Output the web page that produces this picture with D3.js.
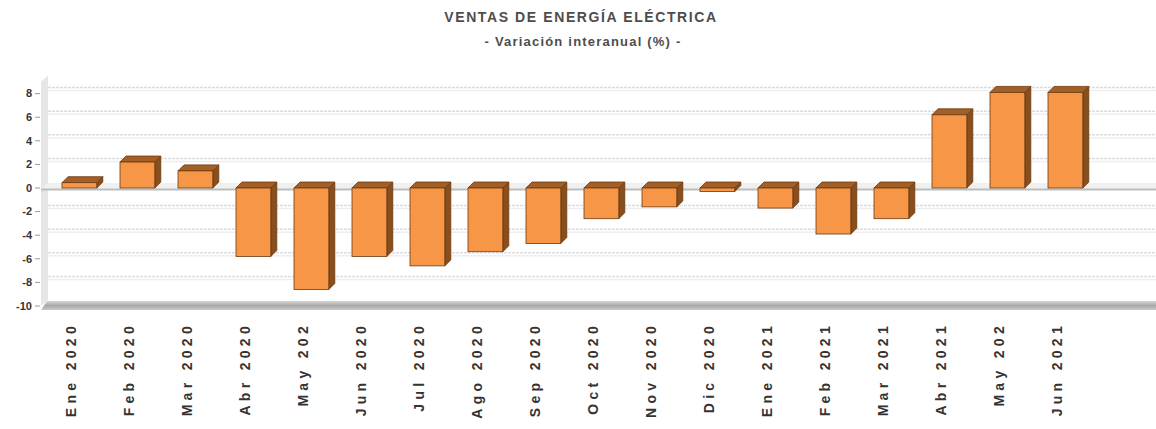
<!DOCTYPE html>
<html><head><meta charset="utf-8">
<script src="https://cdn.jsdelivr.net/npm/d3@7"></script>
<style>
html,body{margin:0;padding:0;background:#fff;}
svg{display:block;}
</style></head>
<body>
<svg id="chart" width="1156" height="429"></svg>
<script>
const categories = ["Ene 2020","Feb 2020","Mar 2020","Abr 2020","May 202","Jun 2020","Jul 2020","Ago 2020","Sep 2020","Oct 2020","Nov 2020","Dic 2020","Ene 2021","Feb 2021","Mar 2021","Abr 2021","May 202","Jun 2021"];
const values = [0.45, 2.2, 1.45, -5.8, -8.6, -5.8, -6.6, -5.4, -4.7, -2.6, -1.6, -0.3, -1.7, -3.9, -2.6, 6.2, 8.1, 8.1];
const yTicks = [8, 6, 4, 2, 0, -2, -4, -6, -8, -10];
const title = "VENTAS DE ENERGÍA ELÉCTRICA";
const subtitle = "- Variación interanual (%) -";

const W = 1156, H = 429;
const svg = d3.select("#chart");
const D = 6; // 3D depth

const idx = categories.map((c, i) => i);
const x = d3.scaleBand().domain(idx).range([50.4, 1094.4]).paddingInner(0.4).paddingOuter(0.2);
const y = d3.scaleLinear().domain([-10, 9]).range([306, 81.8]);

// left wall
svg.append("polygon")
  .attr("points", [[41, y(-10)], [41 + D + 1, y(-10) - D], [41 + D + 1, y(9) - D], [41, y(9)]].map(p => p.join(",")).join(" "))
  .attr("fill", "#e6e6e6");

// back gridlines
const gridVals = yTicks.filter(t => t > -10 && t !== 0);
svg.append("g").selectAll("line").data(gridVals).join("line")
  .attr("x1", 41 + D + 1).attr("x2", W)
  .attr("y1", d => y(d) - D).attr("y2", d => y(d) - D)
  .attr("stroke", "#dcdcdc").attr("stroke-width", 1.5).attr("stroke-dasharray", "3,1");
svg.append("g").selectAll("line").data(gridVals).join("line")
  .attr("x1", 41 + D + 1).attr("x2", W)
  .attr("y1", d => y(d) - D + 3).attr("y2", d => y(d) - D + 3)
  .attr("stroke", "#eeeeee").attr("stroke-width", 1.5);

// zero plane
svg.append("polygon")
  .attr("points", [[41, y(0) + 1], [41 + D, y(0) - D + 1], [W, y(0) - D + 1], [W, y(0) + 1]].map(p => p.join(",")).join(" "))
  .attr("fill", "#f0f0f0");
svg.append("line").attr("x1", 41).attr("x2", W).attr("y1", y(0) + 1.5).attr("y2", y(0) + 1.5)
  .attr("stroke", "#bdbdbd").attr("stroke-width", 2);

// floor
const floorGrad = svg.append("defs").append("linearGradient").attr("id", "floorg").attr("x1", 0).attr("x2", 0).attr("y1", 0).attr("y2", 1);
floorGrad.append("stop").attr("offset", "0%").attr("stop-color", "#d8d8d8");
floorGrad.append("stop").attr("offset", "50%").attr("stop-color", "#a8a8a8");
floorGrad.append("stop").attr("offset", "100%").attr("stop-color", "#c8c8c8");
svg.append("polygon")
  .attr("points", [[41, y(-10) + 4], [41 + D, y(-10) - D + 1], [W, y(-10) - D + 1], [W, y(-10) + 4]].map(p => p.join(",")).join(" "))
  .attr("fill", "url(#floorg)");

// y axis ticks + labels
const yg = svg.append("g");
yg.selectAll("line").data(yTicks).join("line")
  .attr("x1", 35).attr("x2", 40).attr("y1", d => y(d)).attr("y2", d => y(d))
  .attr("stroke", "#999").attr("stroke-width", 1);
yg.selectAll("text").data(yTicks).join("text")
  .attr("x", 32).attr("y", d => y(d)).attr("dy", "0.35em")
  .attr("text-anchor", "end")
  .attr("font-family", "'Liberation Sans Narrow','Liberation Sans',Arial,sans-serif")
  .attr("font-weight", "bold").attr("font-size", 11).attr("fill", "#333")
  .text(d => d);

// bars
const bw = x.bandwidth();
const bars = svg.append("g").selectAll("g").data(idx.map(i => ({i, v: values[i]}))).join("g");
bars.each(function(d) {
  const g = d3.select(this);
  const x0 = x(d.i);
  const yt = y(Math.max(d.v, 0));
  const yb = y(Math.min(d.v, 0));
  const stroke = "#6b3a12";
  g.append("polygon")
    .attr("points", [[x0 + bw, yt], [x0 + bw + D, yt - D], [x0 + bw + D, yb - D], [x0 + bw, yb]].map(p => p.join(",")).join(" "))
    .attr("fill", "#8a4d1c").attr("stroke", stroke).attr("stroke-width", 0.8);
  g.append("polygon")
    .attr("points", [[x0, yt], [x0 + D, yt - D], [x0 + bw + D, yt - D], [x0 + bw, yt]].map(p => p.join(",")).join(" "))
    .attr("fill", "#a45f27").attr("stroke", stroke).attr("stroke-width", 0.8);
  g.append("rect")
    .attr("x", x0).attr("y", yt).attr("width", bw).attr("height", Math.max(yb - yt, 0.5))
    .attr("fill", "#f79646").attr("stroke", stroke).attr("stroke-width", 0.8);
});

// x labels
svg.append("g").selectAll("text").data(idx).join("text")
  .attr("transform", i => `translate(${x(i) + bw / 2 - 8},322) rotate(-90)`)
  .attr("text-anchor", "end").attr("dy", "0.35em")
  .attr("font-family", "'Liberation Sans',Arial,sans-serif")
  .attr("font-weight", "bold").attr("font-size", 14).attr("letter-spacing", "4.3px")
  .attr("fill", "#333")
  .text(i => categories[i]);

// titles
svg.append("text").attr("x", 581).attr("y", 22).attr("text-anchor", "middle")
  .attr("font-family", "'Liberation Sans Narrow','Liberation Sans',Arial,sans-serif")
  .attr("font-weight", "bold").attr("font-size", 14).attr("letter-spacing", "1.6px")
  .attr("fill", "#4d4d4d").text(title);
svg.append("text").attr("x", 583).attr("y", 46).attr("text-anchor", "middle")
  .attr("font-family", "'Liberation Sans Narrow','Liberation Sans',Arial,sans-serif")
  .attr("font-weight", "bold").attr("font-size", 13).attr("letter-spacing", "1.2px")
  .attr("fill", "#4d4d4d").text(subtitle);
</script>
</body></html>
